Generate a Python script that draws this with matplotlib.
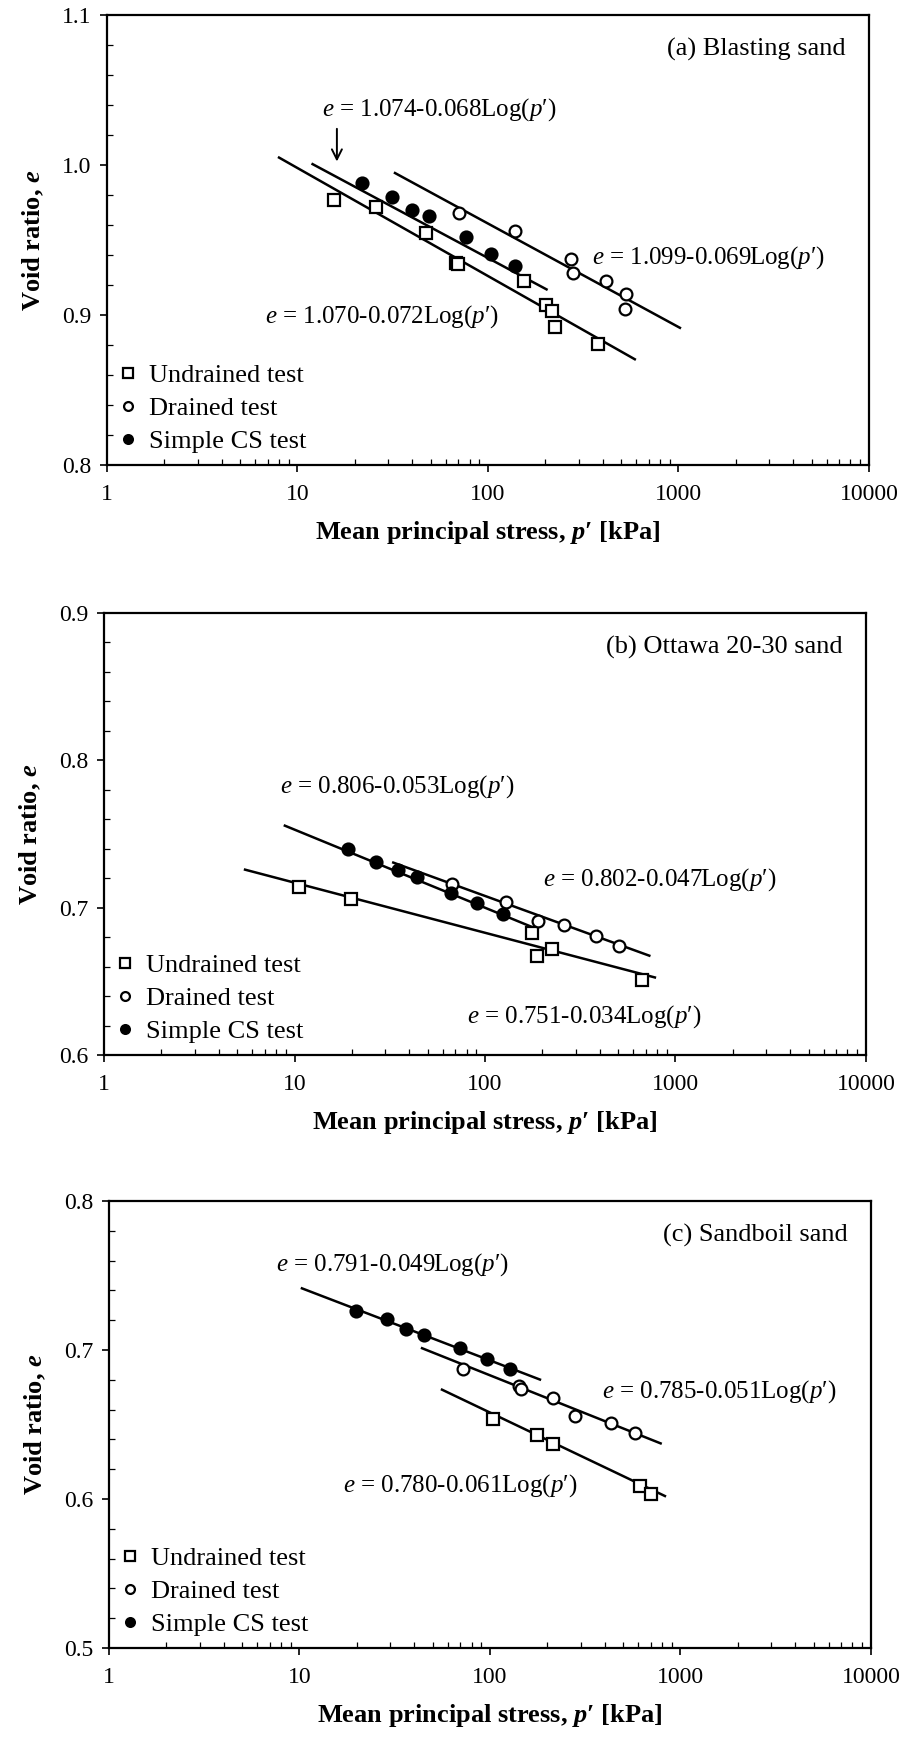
import matplotlib
matplotlib.use("Agg")
import numpy as np
import matplotlib.pyplot as plt
from matplotlib.ticker import LogLocator, MultipleLocator, NullFormatter, FormatStrFormatter

plt.rcParams['font.family'] = ['Liberation Serif', 'DejaVu Serif']
plt.rcParams['mathtext.fontset'] = 'custom'
plt.rcParams['mathtext.rm'] = 'Liberation Serif'
plt.rcParams['mathtext.it'] = 'Liberation Serif:italic'
plt.rcParams['mathtext.bf'] = 'Liberation Serif:bold'
plt.rcParams['mathtext.bfit'] = 'Liberation Serif:italic:bold'

# (a) Blasting sand
a_und_p = [15.6, 25.8, 47.3, 68, 70, 154, 202, 218, 225, 379]
a_und_e = [0.977, 0.972, 0.955, 0.935, 0.934, 0.923, 0.907, 0.903, 0.892, 0.881]
a_dr_p = [70.3, 139, 274, 280, 415, 529, 524]
a_dr_e = [0.968, 0.956, 0.9375, 0.928, 0.923, 0.914, 0.904]
a_cs_p = [21.7, 31.2, 39.8, 49.2, 76.6, 104, 139]
a_cs_e = [0.988, 0.979, 0.970, 0.966, 0.952, 0.941, 0.933]
# fitted lines: intercept, slope, p range  (order: undrained, drained, simple CS)
a_fit_a = [1.070, 1.099, 1.074]
a_fit_b = [0.072, 0.069, 0.068]
a_fit_pmin = [8, 32.5, 12]
a_fit_pmax = [590, 1018, 203]

# (b) Ottawa 20-30 sand
b_und_p = [10.6, 19.7, 176, 187, 226, 670]
b_und_e = [0.714, 0.706, 0.683, 0.667, 0.672, 0.651]
b_dr_p = [66.8, 129, 190, 260, 382, 507]
b_dr_e = [0.716, 0.704, 0.691, 0.688, 0.681, 0.674]
b_cs_p = [19.2, 26.8, 35.1, 43.8, 66.3, 91.2, 124]
b_cs_e = [0.740, 0.731, 0.7255, 0.721, 0.710, 0.703, 0.696]
b_fit_a = [0.751, 0.802, 0.806]
b_fit_b = [0.034, 0.047, 0.053]
b_fit_pmin = [5.5, 33, 8.9]
b_fit_pmax = [780, 729, 176]

# (c) Sandboil sand
c_und_p = [104, 177, 213, 613, 698]
c_und_e = [0.654, 0.643, 0.637, 0.609, 0.603]
c_dr_p = [71.9, 142, 146, 213, 279, 430, 577]
c_dr_e = [0.687, 0.676, 0.674, 0.668, 0.656, 0.651, 0.644]
c_cs_p = [19.8, 28.7, 36.2, 45.2, 69.6, 96.8, 127]
c_cs_e = [0.726, 0.721, 0.714, 0.710, 0.701, 0.694, 0.687]
c_fit_a = [0.780, 0.785, 0.791]
c_fit_b = [0.061, 0.051, 0.049]
c_fit_pmin = [56, 44, 10.3]
c_fit_pmax = [829, 787, 183]

labels = ['Undrained test', 'Drained test', 'Simple CS test']
x_ticks = [1, 10, 100, 1000, 10000]

FS = 17


def draw_panel(ax, und, dr, cs, fit_a, fit_b, pmin, pmax, ylim, title, eq_xy):
    # fitted lines
    for a, b, p0, p1 in zip(fit_a, fit_b, pmin, pmax):
        p = np.array([p0, p1])
        ax.plot(p, a - b * np.log10(p), color='black', lw=1.8, zorder=2)
    h1, = ax.plot(*und, ls='none', marker='s', ms=9, mfc='white', mec='black', mew=1.6, zorder=3)
    h2, = ax.plot(*dr, ls='none', marker='o', ms=8.5, mfc='white', mec='black', mew=1.6, zorder=3)
    h3, = ax.plot(*cs, ls='none', marker='o', ms=9, mfc='black', mec='black', mew=1.2, zorder=3)
    for a, b, (x, y) in zip(fit_a, fit_b, eq_xy):
        ax.text(x, y, f"$e$ = {a:.3f}-{b:.3f}Log($p$\u2032)", fontsize=18, ha='left', va='center')

    ax.set_xscale('log')
    ax.set_xlim(1, 10000)
    ax.set_ylim(*ylim)
    ax.set_xticks(x_ticks, labels=[str(t) for t in x_ticks])
    ax.xaxis.set_minor_locator(LogLocator(base=10, subs=range(2, 10)))
    ax.xaxis.set_minor_formatter(NullFormatter())
    ax.yaxis.set_major_locator(MultipleLocator(0.1))
    ax.yaxis.set_minor_locator(MultipleLocator(0.02))
    ax.yaxis.set_major_formatter(FormatStrFormatter('%.1f'))
    ax.tick_params(which='major', direction='out', length=5, width=1.2, labelsize=FS, pad=6)
    ax.tick_params(which='minor', direction='in', length=4, width=0.9)
    ax.tick_params(axis='x', which='major', pad=9)
    for s in ax.spines.values():
        s.set_linewidth(1.6)

    ax.set_xlabel("Mean principal stress, $\\mathbfit{p}$\u2032 [kPa]", fontsize=19,
                  fontweight='bold', labelpad=10)
    ax.set_ylabel("Void ratio, $\\mathbfit{e}$", fontsize=19, fontweight='bold', labelpad=12)
    ax.text(0.97, 0.923, title, transform=ax.transAxes, ha='right', va='center', fontsize=19)
    ax.legend([h1, h2, h3], labels, loc='lower left', frameon=False, fontsize=19,
              markerscale=0.75, handlelength=0.7, handletextpad=0.45, labelspacing=0.36,
              borderaxespad=0.15, borderpad=0.3)


fig = plt.figure(figsize=(9.07, 17.52), dpi=100)
ax_a = fig.add_axes([0.118, 0.7346, 0.840, 0.2568])
ax_b = fig.add_axes([0.1147, 0.3978, 0.840, 0.2523])
ax_c = fig.add_axes([0.1202, 0.0594, 0.840, 0.2551])

draw_panel(ax_a, (a_und_p, a_und_e), (a_dr_p, a_dr_e), (a_cs_p, a_cs_e),
           a_fit_a, a_fit_b, a_fit_pmin, a_fit_pmax, (0.8, 1.1), '(a) Blasting sand',
           [(6.75, 0.899), (350, 0.938), (13.4, 1.037)])
ax_a.annotate('', xy=(16.1, 1.0005), xytext=(16.1, 1.026),
              arrowprops=dict(arrowstyle='->', lw=1.4, color='black', mutation_scale=18))

draw_panel(ax_b, (b_und_p, b_und_e), (b_dr_p, b_dr_e), (b_cs_p, b_cs_e),
           b_fit_a, b_fit_b, b_fit_pmin, b_fit_pmax, (0.6, 0.9), '(b) Ottawa 20-30 sand',
           [(80, 0.626), (202, 0.719), (8.4, 0.782)])

draw_panel(ax_c, (c_und_p, c_und_e), (c_dr_p, c_dr_e), (c_cs_p, c_cs_e),
           c_fit_a, c_fit_b, c_fit_pmin, c_fit_pmax, (0.5, 0.8), '(c) Sandboil sand',
           [(17, 0.609), (386, 0.672), (7.5, 0.757)])

fig.savefig('out.png', dpi=100)
